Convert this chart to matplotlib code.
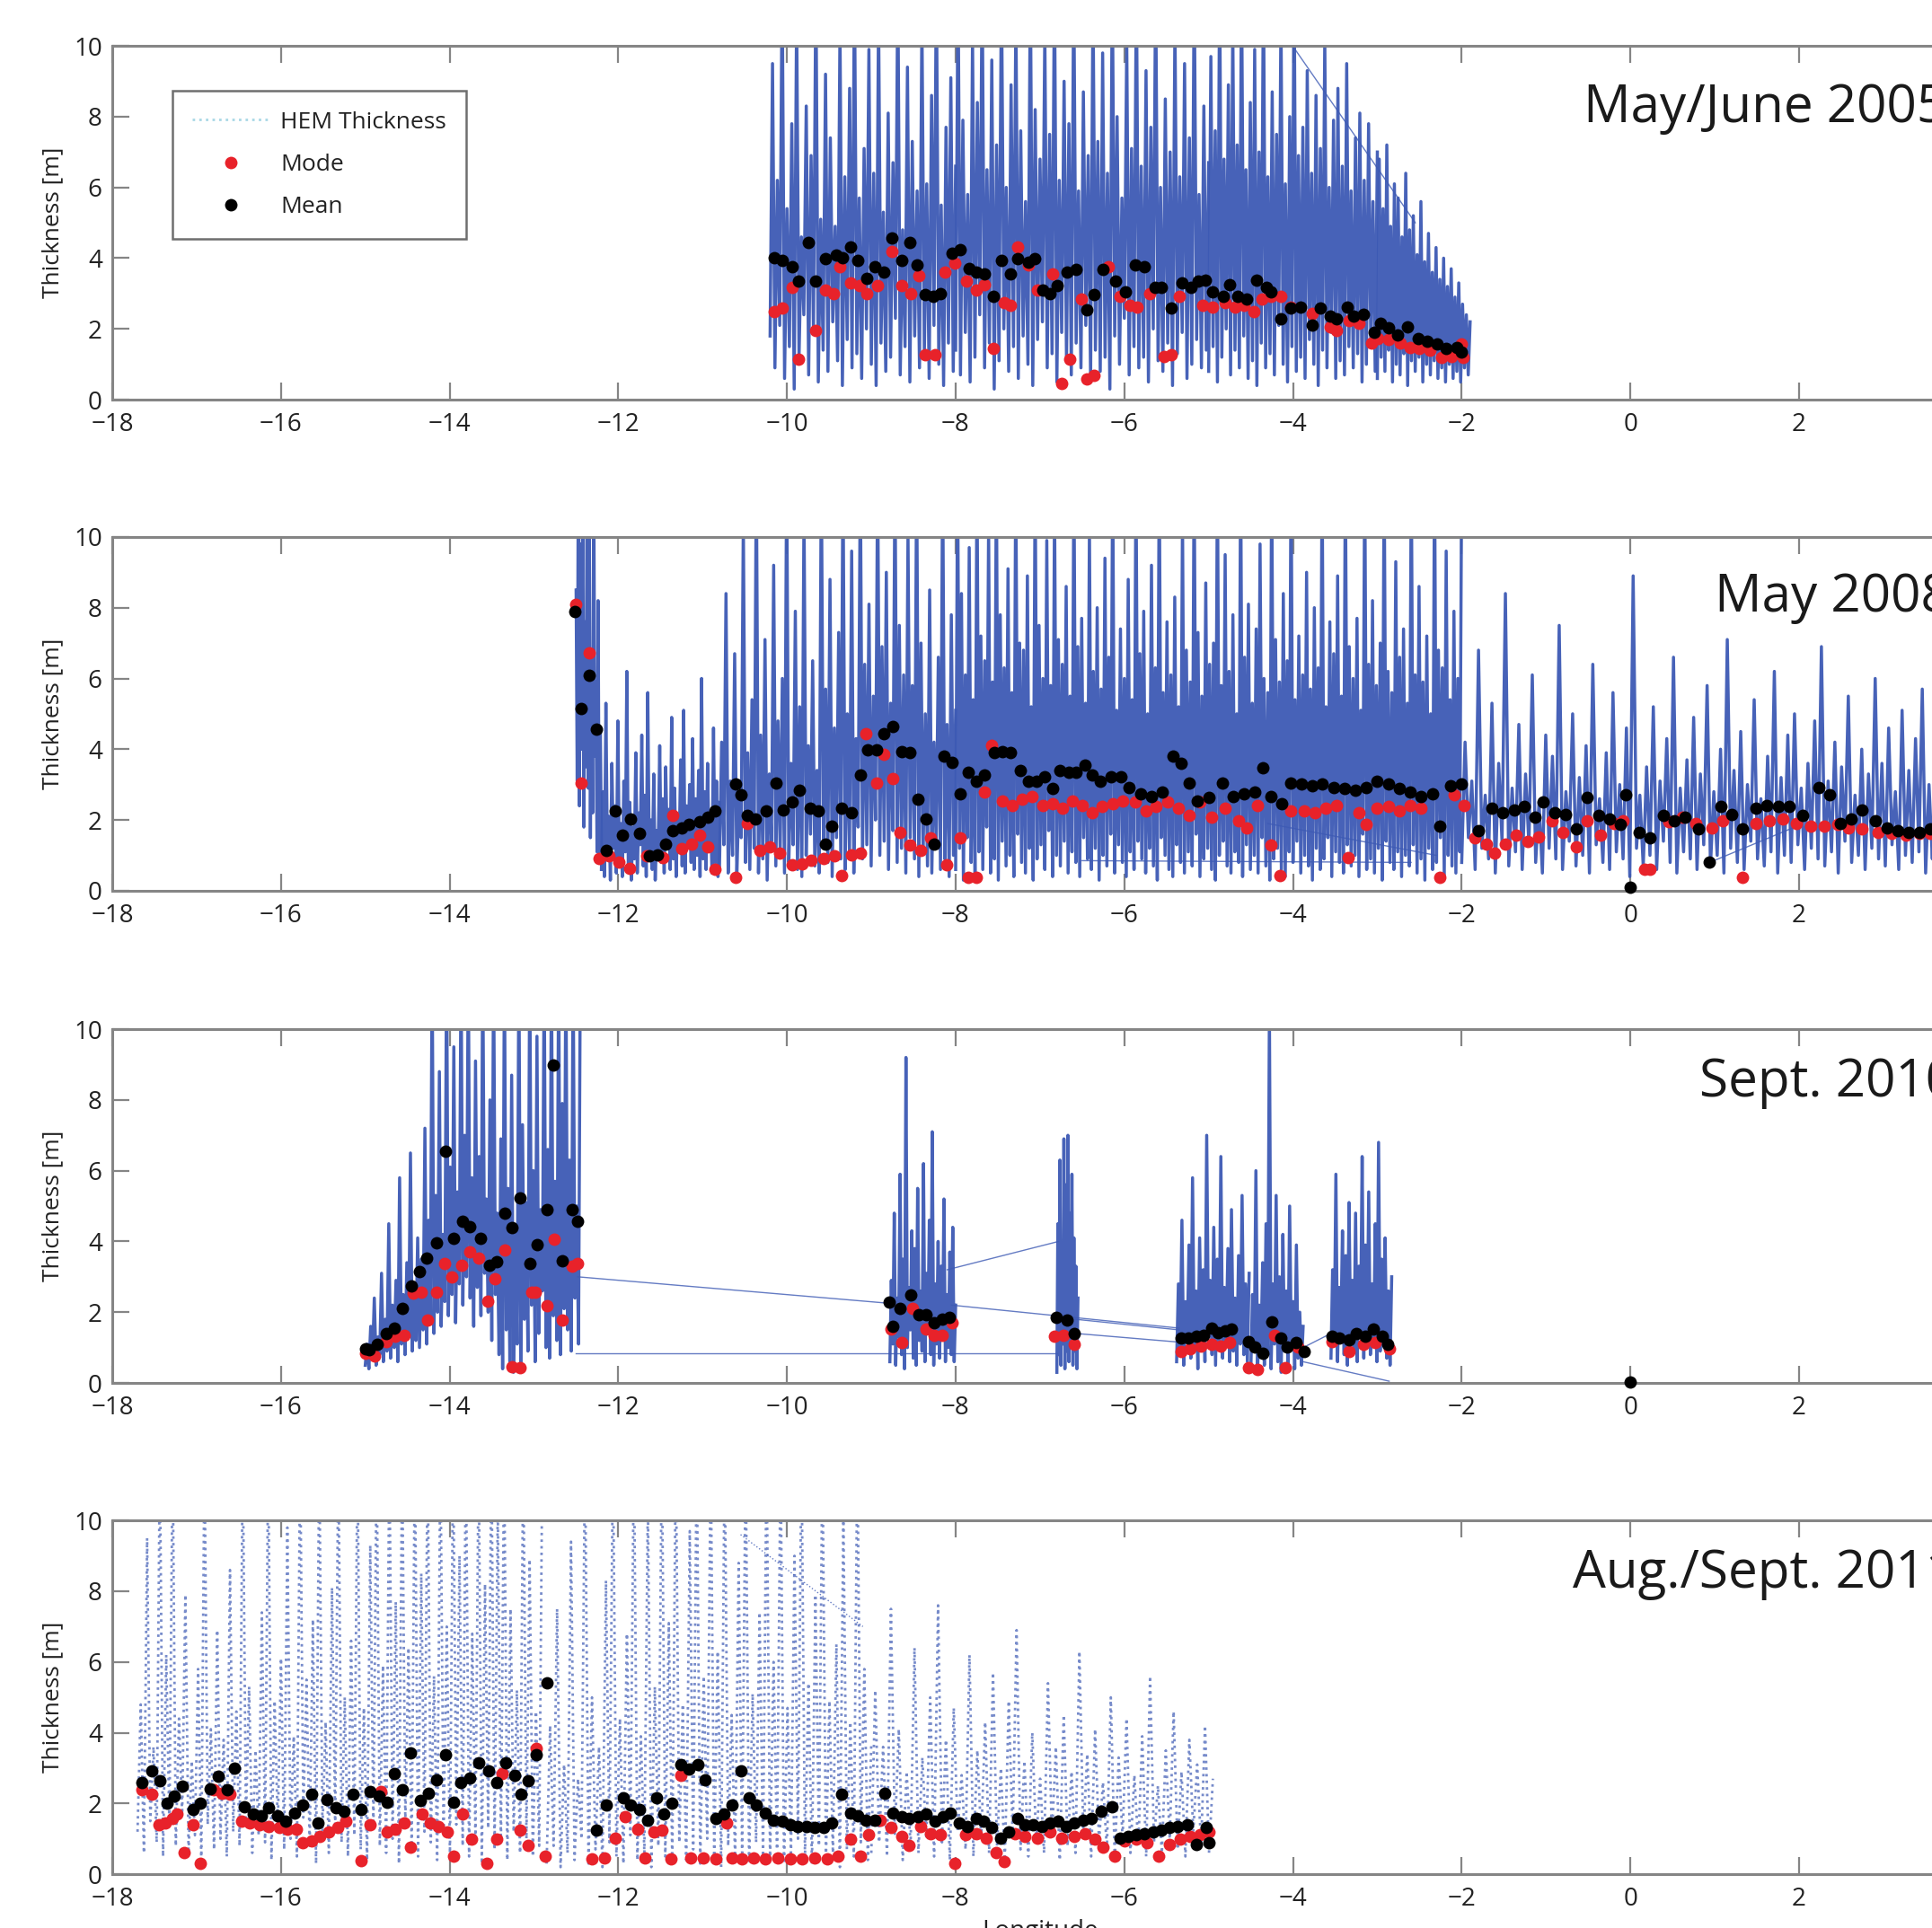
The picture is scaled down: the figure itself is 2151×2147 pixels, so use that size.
import numpy as np
import matplotlib.pyplot as plt
from matplotlib.lines import Line2D

plt.rcParams['font.family'] = ['Open Sans', 'DejaVu Sans']

# ---------------- HEM thickness along track (samples) ----------------
# May/June 2005
hem05_a = """1.8 9.5 0.9 6.2 2.1 12 0.6 5.4 1.5 7.8 0.3 11 1.2 4.6 2.4 8.3 0.7 6.9 1.9 12 0.5 5.1 1.4 9.2 0.8 7.4
2.2 4.9 1.1 10.5 0.4 6.3 1.7 8.8 0.9 12 1.3 5.7 0.6 7.1 2.0 9.9 1.0 6.4 0.4 11 1.6 5.3 0.8 8.1 1.2 6.7 2.3 12
0.7 4.8 1.5 9.4 0.5 7.3 1.8 5.9 0.9 10.8 1.3 6.1 0.6 8.6 2.1 12 1.0 5.5 0.4 7.7 1.6 9.1 0.8 6.6"""
hem05_b = """1.4 12 0.7 7.9 1.9 5.8 0.5 10.2 1.2 8.4 2.4 12 0.9 6.5 1.6 9.6 0.3 7.2 1.1 12 2.0 6.0 0.8 8.9 1.5 11 0.6
7.6 1.8 5.6 1.0 12 0.4 8.2 1.7 6.8 2.2 10.4 0.9 7.5 1.3 12 0.5 6.2 1.9 9.0 1.1 7.8 0.7 12 1.6 5.9 0.9 8.7 2.1 6.9
0.6 11.5 1.4 7.3 0.8 9.8 1.2 6.4 0.3 12 1.8 8.0 1.0 5.7 2.3 10.1 0.7 7.1 1.5 12 0.9 6.6 1.2 9.3 0.5 7.7 2.0 12 1.1
6.0 0.8 8.5 1.6 7.0 0.4 10.7 1.3 6.3 1.9 9.5 0.6 7.4 1.0 12 1.7 5.8 0.9 8.3 1.4 6.7"""
hem05_c = """0.8 9.7 1.5 7.6 0.5 12 1.2 6.8 2.0 8.9 0.7 10.6 1.4 7.2 0.9 12 1.8 6.5 0.6 8.4 1.1 9.9 0.4 7.0 1.6 12 0.9
6.3 1.3 8.7 0.7 7.5 2.1 10.9 1.0 6.1 0.5 8.0 1.5 12 0.8 6.9 1.2 7.7 0.6 9.3 1.7 6.4 1.0 8.6 0.4 7.1 1.4 10.2 0.9
6.0 1.9 7.9 0.6 8.8 1.1 6.6 0.7 9.5 1.5 5.9 0.9 7.4 1.3 8.1 0.5 6.2 1.0 7.8 1.6 5.6 0.8 7.0"""
hem05_d = """0.6 6.8 1.2 5.4 0.8 7.2 1.4 4.9 0.5 6.1 1.0 5.7 0.7 4.6 1.3 6.4 0.4 4.8 1.1 5.2 0.8 4.1 1.2 5.6 0.5 3.9
1.0 4.7 0.7 3.6 1.1 4.3 0.6 3.4 0.9 4.0 0.5 3.2 1.0 3.7 0.6 2.9 0.8 3.3 0.5 2.7 0.9 2.4 0.7 2.2"""
hem05 = [(-10.20, -8.00, hem05_a), (-8.00, -5.00, hem05_b), (-5.00, -3.00, hem05_c), (-3.00, -1.90, hem05_d)]
links05 = [[-4.15, 10.5, -2.55, 5.0]]

# May 2008
hem08_a = "8.5 3.1 12 2.4 9.8 4.0 12 1.8 7.6 3.5 12 2.9 10.4 1.5 6.8 2.2 12 3.8 5.9 1.1 8.2 0.9 4.6 1.3"
hem08_b = """0.6 2.8 0.4 5.3 0.9 2.1 0.3 3.6 1.2 2.4 0.5 4.8 0.8 1.9 0.4 3.1 1.1 6.2 0.6 2.5 0.3 1.8 0.9 3.9 0.5 2.2
1.3 4.4 0.7 2.7 0.4 5.6 1.0 2.0 0.6 3.3 0.3 1.7 1.2 4.1 0.8 2.6 0.5 3.5 1.4 2.3 0.6 4.9 0.9 2.9 0.4 2.1 1.1 3.7
0.7 5.1 0.5 2.4 1.3 3.0 0.8 4.3 0.6 2.6 1.0 3.4 0.4 6.0 0.9 2.8 0.6 3.6 1.2 2.2 0.5 4.6 0.8 3.1 0.4 2.5"""
hem08_c = """0.7 4.2 1.3 8.4 0.5 3.1 1.0 6.7 0.4 2.8 1.5 10.5 0.8 3.9 0.6 5.4 1.2 12 0.5 4.4 0.9 7.1 0.3 3.3 1.4 9.2
0.7 4.8 1.1 6.0 0.5 12 0.8 3.6 1.3 7.9 0.6 5.2 0.4 10.8 1.0 4.1 1.6 6.5 0.7 3.4 0.5 12 1.2 5.7 0.8 8.8 0.4 4.6
1.5 7.3 0.9 12 0.6 5.0 1.1 9.6 0.5 4.3 1.8 12 0.9 6.4 1.3 8.1 0.7 5.5 2.0 12 1.0 6.9 1.4 9.0 0.6 5.3 1.7 12 0.8
7.5 1.2 6.1 0.5 10.1 1.5 5.8 0.9 12 0.4 7.0 1.1 5.0 0.7 8.5 0.5 4.2 1.3 6.6 0.6 12 0.9 4.7 0.4 7.8 1.0 5.1"""
hem08_d = """0.6 12 1.2 8.4 0.3 6.1 1.5 9.7 0.8 5.4 0.4 12 1.1 7.2 0.6 6.5 1.8 10.3 0.5 5.9 0.9 12 0.3 7.8 1.4 6.3
0.7 9.1 1.0 5.6 0.4 12 1.6 7.0 0.8 6.8 0.5 8.9 1.2 5.2 0.3 12 0.9 7.5 1.3 6.0 0.6 9.9 1.7 5.8 0.4 11 1.0 7.1 0.7
6.4 1.4 8.6 0.5 5.5 1.1 12 0.8 6.9 0.4 7.7 1.5 5.3 0.9 10.2 0.6 6.2 1.2 8.0 0.3 5.7 1.0 9.4 0.7 6.6 1.6 12 0.5
5.1 1.3 7.4 0.8 6.0 0.4 8.8 1.1 5.4 0.6 12 1.4 6.7 0.9 7.9 0.5 5.0 1.2 9.2 0.7 6.3 0.3 12 1.5 5.6 1.0 7.6 0.6
6.1 0.4 8.3 1.3 5.2 0.8 10.6 0.5 6.8 1.1 5.9 0.7 12 1.6 7.3 0.4 5.5 0.9 8.7 1.2 6.4 0.6 7.0 0.3 12 1.0 5.8 1.4
9.5 0.7 6.2 0.5 7.8 1.1 5.0 0.8 12 0.4 6.6 1.3 8.1 0.6 5.3 1.0 7.4 0.5 9.8 1.5 6.0 0.7 5.6 0.3 12 0.9 7.1 1.2
5.9 0.6 8.4 0.4 6.5 1.1 12 0.8 5.4 1.4 7.2 0.5 6.1 1.0 9.0 0.7 5.7 0.3 8.0 1.2 6.3 0.6 12 0.9 5.2 1.5 7.6 0.4
6.7 1.1 8.9 0.8 5.5 0.5 12 1.3 6.9 0.7 6.0 1.0 7.7 0.4 5.1 1.6 12 0.6 6.4 0.9 8.2 0.5 5.8 1.2 7.0 0.3 12 1.4
6.2 0.8 5.6 0.6 9.3 1.1 6.6 0.4 7.4 1.0 5.3 0.7 12 1.3 6.1 0.5 8.6 0.9 5.9 0.3 7.2 1.2 5.0 0.6 12 0.8 6.8 1.5
6.3 0.4 9.6 1.0 5.4 0.7 7.9 0.5 6.0 1.1 12"""
hem08_e = """0.8 4.2 1.5 3.1 0.6 6.8 1.2 2.7 0.9 5.3 0.5 3.6 1.4 8.4 0.7 2.9 1.1 4.7 0.6 3.3 1.3 6.1 0.8 2.5 0.5 4.4
1.2 3.8 0.9 7.5 0.6 2.8 1.4 5.0 0.7 3.2 1.0 4.1 0.5 6.4 1.3 2.6 0.8 3.9 0.6 5.6 1.1 3.0 0.9 4.6 0.4 8.9 1.2 2.7
0.7 3.5 1.0 5.2 0.6 3.1 1.4 4.3 0.8 6.6 0.5 2.9 1.1 3.7 0.9 4.9 0.6 3.3 1.3 5.8 0.7 2.8 1.0 4.0 0.5 7.1 1.2 3.4
0.8 4.5 0.6 3.0 1.4 5.4 0.9 2.6 0.7 3.8 1.1 6.2 0.5 3.2 1.0 4.4 0.8 5.0 1.3 2.9 0.6 3.6 1.2 4.8 0.9 6.9 0.7 3.1
1.1 4.2 0.5 3.5 1.4 5.5 0.8 2.7 1.0 4.0 0.6 3.3 1.2 6.0 0.9 3.6 0.7 4.6 1.3 2.8 0.6 5.1 1.0 3.4 0.8 4.3 1.1 5.7
0.5 3.0 0.9 4.1 1.2 3.5"""
hem08 = [(-12.50, -12.20, hem08_a), (-12.20, -10.80, hem08_b), (-10.80, -8.00, hem08_c),
         (-8.00, -2.00, hem08_d), (-2.00, 3.70, hem08_e)]
links08 = [[-6.50, 0.85, -2.60, 0.80], [-4.30, 1.90, -2.30, 1.00], [0.94, 0.80, 2.05, 1.90]]

# Sept. 2010
hem10_a = """0.5 1.1 0.4 1.6 0.7 2.4 0.5 1.3 0.8 3.1 0.6 1.8 0.9 4.5 0.7 2.2 1.0 2.9 0.6 5.8 1.1 2.5 0.8 3.4 1.3 6.5
0.9 2.8 1.2 4.1 1.0 3.5 1.5 7.2 1.1 4.6 1.8 12 1.4 5.3 2.0 8.8 1.6 4.2 2.3 12 1.9 6.1 2.5 9.5 1.7 5.4 2.8 12 2.2
7.0 3.0 12 2.4 5.8 1.6 9.1 2.7 6.4 1.9 12 3.1 5.2 2.0 8.0 1.2 12 2.5 4.8 0.8 6.9 0.4 12 1.5 5.5 0.6 8.7 0.3 4.4
1.1 12 0.5 7.3 1.8 5.1 0.9 12 2.2 6.0 0.6 9.8 1.4 4.9 2.6 12 1.0 6.6 0.7 12 1.9 5.7 1.2 12 0.8 7.9 2.1 12 1.5
6.3 0.9 12 2.4 5.0 1.1 12"""
hem10_b = """0.6 2.9 1.1 4.8 0.5 2.4 1.3 5.9 0.8 3.5 0.4 9.2 1.0 2.7 1.5 4.3 0.7 3.8 0.5 5.5 1.2 2.6 0.9 6.2 0.6 3.1
1.4 4.6 0.8 7.1 0.5 2.8 1.1 4.0 0.7 3.3 1.3 5.2 0.6 2.5 1.0 3.7 0.8 4.4 0.6 2.2"""
hem10_c = "0.3 4.5 0.8 6.3 0.5 3.9 1.1 6.9 0.4 5.6 0.9 7.0 0.6 4.8 1.2 5.9 0.5 4.1 0.9 3.3 0.4 2.4"
hem10_d = """0.6 2.8 1.0 4.6 0.5 2.3 1.2 3.9 0.7 5.8 0.9 2.6 0.4 4.1 1.1 3.2 0.6 7.0 1.3 2.9 0.8 4.4 0.5 3.5 1.0 6.4
0.7 2.7 1.2 3.8 0.6 4.9 0.9 2.4 0.5 3.6 1.1 5.3 0.8 2.8 0.6 3.1"""
hem10_e = "0.4 2.5 0.9 6.0 0.3 2.2 1.0 3.4 0.5 4.5 0.8 10.5 0.4 2.8 1.1 5.3 0.6 3.0 0.3 4.2 0.9 2.6 0.5 5.0 1.0 2.3 0.4 3.9 0.7 2.0 0.5 1.6"
hem10_f = """0.7 3.2 1.1 5.9 0.6 2.7 1.3 4.3 0.8 3.6 0.5 5.1 1.2 2.9 0.9 4.8 0.6 3.3 1.4 6.4 0.7 3.9 1.0 5.4 0.8 2.8
1.2 4.5 0.6 6.8 0.9 3.5 1.1 4.1 0.7 2.6 0.5 3.0"""
hem10 = [(-15.00, -12.45, hem10_a), (-8.78, -8.00, hem10_b), (-6.80, -6.55, hem10_c),
         (-5.38, -4.52, hem10_d), (-4.50, -3.88, hem10_e), (-3.55, -2.83, hem10_f)]
links10 = [[-12.48, 3.00, -8.78, 2.25], [-12.50, 0.85, -6.80, 0.85], [-8.10, 3.20, -6.78, 4.00],
           [-8.05, 2.20, -5.35, 1.55], [-6.58, 1.80, -5.35, 1.50], [-6.58, 1.40, -5.33, 1.15],
           [-3.88, 0.60, -2.86, 0.05], [-3.88, 1.00, -3.55, 1.40]]

# Aug./Sept. 2011
hem11_a = """1.2 4.8 0.6 9.5 1.5 3.6 0.9 12 0.5 6.2 1.3 12 0.8 4.4 1.7 7.9 0.6 3.2 1.1 5.8 0.4 12 1.4 4.1 0.7 6.9
1.0 3.8 0.5 8.6 1.2 4.6 0.8 12 1.5 5.3 0.6 3.5 1.1 7.4 0.9 12 0.4 4.9 1.3 6.1 0.7 9.8 1.0 3.9 0.5 12 1.6 5.5 0.8
7.2 0.3 12 1.2 4.3 0.6 8.1 1.4 12 0.9 5.0 0.5 6.6 1.1 12 0.7 4.7 0.4 9.3 1.3 12 0.8 5.9 0.6 12 1.0 7.7 0.3 12 1.5
6.4 0.7 12 0.5 8.5 1.2 12 0.9 5.6 0.4 12 1.1 7.0 0.6 12 1.4 9.0 0.8 12 0.5 6.8 1.0 12 0.3 8.2 1.3 12 0.7 10.4 0.9
12 0.4 7.5 1.2 5.2 0.6 12 1.0 8.9 0.5 4.6 0.8 12"""
hem11_b = """0.3 4.2 0.8 7.5 0.2 3.1 0.6 9.4 0.4 2.7 1.0 12 0.3 5.0 0.7 3.6 0.2 8.3 0.9 12 0.5 4.4 0.3 6.8 1.1 12 0.4
3.9 0.6 10.6 0.2 5.3 0.8 12 0.5 7.1 0.3 12 0.9 4.8 0.4 9.7 0.7 12 0.3 5.6 1.0 12 0.5 6.3 0.2 12 0.8 4.5 0.4 8.8
0.6 12 0.3 5.1 0.9 7.4 0.5 12 0.4 6.0 0.7 12 0.3 4.7 0.6 9.0 1.0 12 0.5 5.4 0.3 7.9 0.8 12 0.4 4.9 0.6 6.5 0.2
10.1 0.7 4.3 0.5 12 0.9 5.8 0.4 3.7"""
hem11_c = """0.6 5.2 0.9 3.6 0.5 7.5 1.1 4.1 0.4 2.9 0.8 6.4 0.6 3.3 1.0 5.0 0.5 7.6 0.9 3.8 0.4 4.7 1.2 2.8 0.7 6.2
0.5 3.5 1.0 4.3 0.6 5.7 0.8 3.0 0.4 4.9 1.1 6.9 0.7 3.2 0.5 4.0 0.9 2.7 0.6 5.4 1.0 3.6 0.4 4.5 0.8 2.9 0.6 6.3
1.1 3.4 0.5 4.1 0.9 2.6 0.7 5.0 0.4 3.3 1.0 4.4 0.6 2.8 0.8 3.9 0.5 5.6 0.9 2.5 0.6 3.5 1.0 4.6 0.7 2.9 0.5 3.8
1.2 3.1 0.8 4.2 0.6 2.7"""
hem11 = [(-17.70, -12.90, hem11_a), (-12.85, -9.00, hem11_b), (-9.00, -4.95, hem11_c)]
links11 = [[-10.55, 9.60, -9.10, 7.00]]

# ---------------- Mode / Mean per section [lon, thickness] ----------------
mode05 = np.array([[-10.15, 2.50], [-10.06, 2.58], [-9.94, 3.17], [-9.86, 1.14], [-9.66, 1.95], [-9.54, 3.09],
    [-9.45, 3.00], [-9.37, 3.77], [-9.25, 3.30], [-9.14, 3.22], [-9.05, 3.00], [-8.93, 3.22], [-8.76, 4.19],
    [-8.64, 3.22], [-8.53, 3.00], [-8.44, 3.51], [-8.36, 1.27], [-8.24, 1.27], [-8.13, 3.60], [-8.01, 3.85],
    [-7.87, 3.34], [-7.75, 3.09], [-7.66, 3.26], [-7.55, 1.44], [-7.43, 2.75], [-7.35, 2.67], [-7.26, 4.32],
    [-7.14, 3.81], [-7.03, 3.09], [-6.85, 3.55], [-6.74, 0.47], [-6.65, 1.14], [-6.51, 2.84], [-6.45, 0.59],
    [-6.36, 0.68], [-6.19, 3.77], [-6.05, 2.92], [-5.93, 2.67], [-5.85, 2.62], [-5.70, 3.00], [-5.53, 1.23],
    [-5.44, 1.27], [-5.35, 2.92], [-5.07, 2.67], [-4.95, 2.62], [-4.81, 2.75], [-4.69, 2.62], [-4.58, 2.67],
    [-4.46, 2.50], [-4.37, 2.84], [-4.26, 2.92], [-4.14, 2.92], [-4.03, 2.62], [-3.77, 2.45], [-3.56, 2.07],
    [-3.48, 1.95], [-3.33, 2.24], [-3.22, 2.16], [-3.07, 1.61], [-2.99, 1.73], [-2.87, 1.69], [-2.73, 1.61],
    [-2.61, 1.48], [-2.50, 1.44], [-2.38, 1.40], [-2.24, 1.19], [-2.12, 1.23], [-2.00, 1.57], [-1.98, 1.19]])
mean05 = np.array([[-10.15, 4.02], [-10.06, 3.93], [-9.94, 3.77], [-9.86, 3.34], [-9.75, 4.44], [-9.66, 3.34],
    [-9.54, 3.98], [-9.42, 4.10], [-9.34, 4.02], [-9.25, 4.32], [-9.16, 3.93], [-9.05, 3.43], [-8.96, 3.77],
    [-8.85, 3.60], [-8.76, 4.57], [-8.64, 3.93], [-8.54, 4.44], [-8.46, 3.81], [-8.36, 2.96], [-8.27, 2.92],
    [-8.18, 3.00], [-8.04, 4.15], [-7.95, 4.23], [-7.84, 3.72], [-7.75, 3.60], [-7.66, 3.55], [-7.55, 2.92],
    [-7.46, 3.93], [-7.35, 3.55], [-7.26, 3.98], [-7.14, 3.88], [-7.06, 3.98], [-6.97, 3.09], [-6.88, 3.00],
    [-6.80, 3.22], [-6.68, 3.60], [-6.57, 3.68], [-6.45, 2.54], [-6.36, 2.96], [-6.25, 3.68], [-6.10, 3.34],
    [-5.99, 3.05], [-5.87, 3.81], [-5.76, 3.77], [-5.64, 3.17], [-5.56, 3.17], [-5.44, 2.58], [-5.32, 3.30],
    [-5.21, 3.17], [-5.12, 3.34], [-5.04, 3.39], [-4.95, 3.05], [-4.83, 2.92], [-4.75, 3.26], [-4.66, 2.92],
    [-4.55, 2.84], [-4.43, 3.39], [-4.31, 3.17], [-4.26, 3.05], [-4.14, 2.29], [-4.03, 2.58], [-3.91, 2.62],
    [-3.77, 2.12], [-3.68, 2.58], [-3.56, 2.37], [-3.48, 2.29], [-3.36, 2.62], [-3.28, 2.37], [-3.16, 2.41],
    [-3.04, 1.90], [-2.96, 2.16], [-2.87, 2.03], [-2.76, 1.82], [-2.64, 2.07], [-2.52, 1.73], [-2.41, 1.65],
    [-2.29, 1.57], [-2.18, 1.44], [-2.06, 1.48], [-2.00, 1.35]])

mode08 = np.array([[-12.50, 8.09], [-12.34, 6.72], [-12.44, 3.05], [-12.23, 0.90], [-12.11, 0.98], [-11.99, 0.81],
    [-11.87, 0.64], [-11.66, 0.98], [-11.47, 0.94], [-11.35, 2.12], [-11.25, 1.19], [-11.13, 1.32], [-11.04, 1.57],
    [-10.94, 1.23], [-10.85, 0.60], [-10.61, 0.39], [-10.47, 1.91], [-10.32, 1.15], [-10.20, 1.23], [-10.09, 1.07],
    [-9.94, 0.73], [-9.82, 0.77], [-9.71, 0.85], [-9.56, 0.90], [-9.44, 0.98], [-9.35, 0.43], [-9.23, 1.02],
    [-9.13, 1.07], [-9.06, 4.44], [-8.94, 3.05], [-8.85, 3.85], [-8.75, 3.18], [-8.66, 1.66], [-8.54, 1.28],
    [-8.42, 1.15], [-8.30, 1.49], [-8.11, 0.73], [-7.95, 1.49], [-7.85, 0.39], [-7.76, 0.39], [-7.66, 2.80],
    [-7.57, 4.10], [-7.45, 2.54], [-7.33, 2.42], [-7.21, 2.59], [-7.09, 2.67], [-6.97, 2.42], [-6.85, 2.46],
    [-6.73, 2.33], [-6.62, 2.54], [-6.50, 2.42], [-6.38, 2.21], [-6.26, 2.38], [-6.14, 2.46], [-6.02, 2.54],
    [-5.87, 2.50], [-5.74, 2.25], [-5.62, 2.38], [-5.49, 2.50], [-5.36, 2.33], [-5.23, 2.12], [-5.10, 2.50],
    [-4.97, 2.08], [-4.81, 2.33], [-4.65, 1.99], [-4.55, 1.78], [-4.42, 2.42], [-4.26, 1.28], [-4.16, 0.43],
    [-4.03, 2.25], [-3.87, 2.25], [-3.74, 2.21], [-3.61, 2.33], [-3.48, 2.42], [-3.35, 0.94], [-3.22, 2.21],
    [-3.13, 1.87], [-3.00, 2.33], [-2.87, 2.38], [-2.74, 2.25], [-2.61, 2.42], [-2.48, 2.33], [-2.26, 0.39],
    [-2.09, 2.71], [-1.97, 2.42], [-1.84, 1.49], [-1.71, 1.32], [-1.61, 1.07], [-1.48, 1.32], [-1.35, 1.57],
    [-1.22, 1.40], [-1.09, 1.53], [-0.93, 1.99], [-0.80, 1.66], [-0.64, 1.23], [-0.51, 1.99], [-0.35, 1.57],
    [-0.19, 1.91], [-0.09, 1.99], [0.17, 0.60], [0.23, 0.60], [0.46, 1.95], [0.62, 2.08], [0.78, 1.91],
    [0.97, 1.78], [1.10, 1.99], [1.33, 0.39], [1.49, 1.91], [1.65, 1.99], [1.81, 2.04], [1.97, 1.91],
    [2.14, 1.83], [2.30, 1.83], [2.46, 1.87], [2.59, 1.78], [2.75, 1.74], [2.94, 1.66], [3.10, 1.61],
    [3.27, 1.57], [3.43, 1.61], [3.56, 1.61]])
mean08 = np.array([[-12.52, 7.90], [-12.34, 6.09], [-12.44, 5.16], [-12.26, 4.57], [-12.14, 1.15], [-12.04, 2.25],
    [-11.95, 1.57], [-11.85, 2.04], [-11.75, 1.61], [-11.63, 0.98], [-11.54, 1.02], [-11.44, 1.32], [-11.35, 1.70],
    [-11.25, 1.78], [-11.16, 1.87], [-11.04, 1.95], [-10.94, 2.08], [-10.85, 2.25], [-10.61, 3.01], [-10.54, 2.71],
    [-10.47, 2.12], [-10.37, 2.04], [-10.25, 2.25], [-10.13, 3.05], [-10.04, 2.29], [-9.94, 2.50], [-9.85, 2.84],
    [-9.73, 2.33], [-9.63, 2.25], [-9.54, 1.32], [-9.47, 1.83], [-9.35, 2.33], [-9.23, 2.21], [-9.13, 3.26],
    [-9.04, 3.98], [-8.94, 3.98], [-8.85, 4.44], [-8.75, 4.65], [-8.64, 3.94], [-8.54, 3.90], [-8.45, 2.59],
    [-8.35, 2.04], [-8.26, 1.32], [-8.14, 3.81], [-8.04, 3.64], [-7.95, 2.75], [-7.85, 3.35], [-7.76, 3.09],
    [-7.66, 3.26], [-7.54, 3.90], [-7.45, 3.94], [-7.35, 3.90], [-7.23, 3.39], [-7.14, 3.09], [-7.04, 3.09],
    [-6.95, 3.22], [-6.85, 2.88], [-6.76, 3.39], [-6.66, 3.35], [-6.57, 3.35], [-6.47, 3.56], [-6.38, 3.26],
    [-6.28, 3.09], [-6.16, 3.22], [-6.04, 3.22], [-5.94, 2.92], [-5.81, 2.75], [-5.68, 2.67], [-5.55, 2.80],
    [-5.42, 3.81], [-5.33, 3.60], [-5.23, 3.05], [-5.13, 2.54], [-5.00, 2.63], [-4.84, 3.05], [-4.71, 2.67],
    [-4.58, 2.75], [-4.45, 2.80], [-4.36, 3.47], [-4.26, 2.67], [-4.13, 2.46], [-4.03, 3.05], [-3.90, 3.01],
    [-3.77, 2.97], [-3.65, 3.01], [-3.52, 2.92], [-3.39, 2.88], [-3.26, 2.84], [-3.13, 2.92], [-3.00, 3.09],
    [-2.87, 3.01], [-2.74, 2.88], [-2.61, 2.80], [-2.48, 2.67], [-2.35, 2.75], [-2.26, 1.83], [-2.13, 2.97],
    [-2.00, 3.01], [-1.80, 1.70], [-1.64, 2.33], [-1.51, 2.21], [-1.38, 2.29], [-1.26, 2.38], [-1.13, 2.08],
    [-1.03, 2.50], [-0.90, 2.21], [-0.77, 2.16], [-0.64, 1.74], [-0.51, 2.63], [-0.38, 2.12], [-0.25, 2.04],
    [-0.12, 1.87], [-0.06, 2.71], [0.00, 0.09], [0.10, 1.66], [0.23, 1.49], [0.39, 2.12], [0.52, 1.99],
    [0.65, 2.08], [0.81, 1.74], [0.94, 0.81], [1.07, 2.38], [1.20, 2.16], [1.33, 1.74], [1.49, 2.33],
    [1.62, 2.42], [1.75, 2.38], [1.88, 2.38], [2.04, 2.12], [2.23, 2.92], [2.36, 2.71], [2.49, 1.91],
    [2.62, 2.04], [2.75, 2.29], [2.91, 1.99], [3.04, 1.78], [3.17, 1.70], [3.30, 1.66], [3.43, 1.66],
    [3.56, 1.74]])

mode10 = np.array([[-15.00, 0.84], [-14.89, 0.76], [-14.75, 1.18], [-14.65, 1.31], [-14.54, 1.35], [-14.43, 2.53],
    [-14.34, 2.57], [-14.26, 1.77], [-14.15, 2.57], [-14.06, 3.38], [-13.97, 3.00], [-13.86, 3.33], [-13.76, 3.71],
    [-13.65, 3.54], [-13.55, 2.32], [-13.46, 2.95], [-13.35, 3.76], [-13.26, 0.46], [-13.16, 0.42], [-13.03, 2.57],
    [-12.98, 2.57], [-12.85, 2.19], [-12.76, 4.05], [-12.66, 1.77], [-12.55, 3.29], [-12.48, 3.38],
    [-8.77, 1.52], [-8.64, 1.14], [-8.51, 2.11], [-8.35, 1.52], [-8.26, 1.35], [-8.16, 1.35], [-8.04, 1.69],
    [-6.83, 1.31], [-6.72, 1.35], [-6.59, 1.10], [-5.33, 0.89], [-5.22, 0.97], [-5.09, 1.05], [-4.97, 1.10],
    [-4.86, 1.05], [-4.75, 1.14], [-4.53, 0.42], [-4.42, 0.38], [-4.22, 1.35], [-4.09, 0.42], [-3.94, 1.01],
    [-3.54, 1.18], [-3.34, 0.89], [-3.16, 1.10], [-3.03, 1.14], [-2.86, 0.97]])
mean10 = np.array([[-15.00, 0.97], [-14.95, 0.93], [-14.86, 1.10], [-14.75, 1.39], [-14.66, 1.56], [-14.56, 2.11],
    [-14.45, 2.74], [-14.36, 3.16], [-14.27, 3.54], [-14.15, 3.97], [-14.05, 6.54], [-13.95, 4.09], [-13.85, 4.56],
    [-13.76, 4.43], [-13.63, 4.09], [-13.53, 3.33], [-13.44, 3.42], [-13.35, 4.81], [-13.26, 4.39], [-13.16, 5.23],
    [-13.05, 3.38], [-12.96, 3.92], [-12.85, 4.89], [-12.77, 8.99], [-12.66, 3.46], [-12.55, 4.89], [-12.48, 4.56],
    [-8.79, 2.28], [-8.75, 1.60], [-8.66, 2.11], [-8.53, 2.49], [-8.44, 1.94], [-8.35, 1.94], [-8.26, 1.69],
    [-8.16, 1.81], [-8.07, 1.86], [-6.81, 1.86], [-6.68, 1.77], [-6.59, 1.39], [-5.33, 1.27], [-5.24, 1.27],
    [-5.15, 1.31], [-5.06, 1.35], [-4.97, 1.56], [-4.89, 1.43], [-4.80, 1.48], [-4.73, 1.52], [-4.53, 1.18],
    [-4.45, 1.01], [-4.36, 0.84], [-4.25, 1.73], [-4.14, 1.27], [-4.07, 1.01], [-3.96, 1.14], [-3.87, 0.89],
    [-3.54, 1.31], [-3.45, 1.27], [-3.34, 1.22], [-3.25, 1.39], [-3.14, 1.31], [-3.05, 1.52], [-2.94, 1.31],
    [-2.88, 1.10], [0.00, 0.02]])

mode11 = np.array([[-17.65, 2.38], [-17.53, 2.25], [-17.45, 1.40], [-17.37, 1.45], [-17.29, 1.57], [-17.23, 1.70],
    [-17.15, 0.60], [-17.04, 1.40], [-16.96, 0.30], [-16.80, 2.38], [-16.70, 2.29], [-16.60, 2.25], [-16.47, 1.49],
    [-16.37, 1.45], [-16.25, 1.40], [-16.15, 1.36], [-16.02, 1.32], [-15.92, 1.28], [-15.82, 1.28], [-15.74, 0.90],
    [-15.64, 0.94], [-15.54, 1.07], [-15.43, 1.19], [-15.33, 1.32], [-15.23, 1.49], [-15.05, 0.39], [-14.94, 1.40],
    [-14.82, 2.33], [-14.74, 1.19], [-14.64, 1.28], [-14.54, 1.45], [-14.46, 0.77], [-14.33, 1.70], [-14.23, 1.45],
    [-14.13, 1.36], [-14.03, 1.19], [-13.95, 0.52], [-13.85, 1.70], [-13.74, 0.98], [-13.56, 0.30], [-13.44, 0.98],
    [-13.38, 2.84], [-13.17, 1.24], [-13.07, 0.81], [-12.97, 3.56], [-12.87, 0.52],
    [-12.31, 0.43], [-12.16, 0.47], [-12.04, 1.02], [-11.92, 1.62], [-11.77, 1.28], [-11.68, 0.47], [-11.58, 1.19],
    [-11.48, 1.24], [-11.38, 0.43], [-11.26, 2.80], [-11.14, 0.47], [-10.99, 0.47], [-10.84, 0.43], [-10.72, 1.45],
    [-10.65, 0.47], [-10.53, 0.43], [-10.40, 0.47], [-10.26, 0.43], [-10.11, 0.47], [-9.96, 0.43], [-9.82, 0.43],
    [-9.67, 0.47], [-9.52, 0.43], [-9.40, 0.52], [-9.25, 0.98], [-9.13, 0.52], [-9.03, 1.11], [-8.89, 1.53],
    [-8.77, 1.32], [-8.64, 1.07], [-8.55, 0.81], [-8.42, 1.36], [-8.30, 1.15], [-8.18, 1.11], [-8.01, 0.30],
    [-7.88, 1.11], [-7.76, 1.15], [-7.64, 1.02], [-7.52, 0.60], [-7.42, 0.35], [-7.30, 1.15], [-7.18, 1.07],
    [-7.03, 1.02], [-6.88, 1.19], [-6.74, 1.02], [-6.59, 1.07], [-6.47, 1.15], [-6.35, 0.98], [-6.25, 0.77],
    [-6.12, 0.52], [-6.00, 0.94], [-5.86, 0.98], [-5.73, 0.90], [-5.59, 0.52], [-5.47, 0.85], [-5.34, 0.98],
    [-5.22, 1.07], [-5.10, 1.11], [-5.00, 1.19]])
mean11 = np.array([[-17.65, 2.59], [-17.53, 2.93], [-17.43, 2.63], [-17.35, 2.00], [-17.27, 2.21], [-17.17, 2.50],
    [-17.04, 1.83], [-16.96, 2.00], [-16.84, 2.42], [-16.74, 2.76], [-16.64, 2.38], [-16.55, 3.01], [-16.43, 1.91],
    [-16.33, 1.70], [-16.23, 1.66], [-16.15, 1.87], [-16.04, 1.66], [-15.94, 1.49], [-15.84, 1.74], [-15.74, 1.95],
    [-15.64, 2.25], [-15.56, 1.45], [-15.45, 2.12], [-15.35, 1.87], [-15.25, 1.79], [-15.15, 2.25], [-15.05, 1.83],
    [-14.94, 2.33], [-14.84, 2.21], [-14.74, 2.04], [-14.66, 2.84], [-14.56, 2.38], [-14.46, 3.44], [-14.35, 2.08],
    [-14.25, 2.29], [-14.15, 2.67], [-14.05, 3.39], [-13.95, 2.04], [-13.87, 2.59], [-13.76, 2.72], [-13.66, 3.14],
    [-13.54, 2.93], [-13.44, 2.59], [-13.34, 3.14], [-13.23, 2.80], [-13.15, 2.25], [-13.07, 2.63], [-12.97, 3.39],
    [-12.85, 5.42], [-12.26, 1.24], [-12.14, 1.95], [-11.94, 2.17], [-11.85, 1.95], [-11.75, 1.83], [-11.65, 1.53],
    [-11.55, 2.17], [-11.46, 1.70], [-11.36, 2.00], [-11.26, 3.10], [-11.16, 2.97], [-11.06, 3.10], [-10.97, 2.67],
    [-10.84, 1.57], [-10.75, 1.70], [-10.65, 1.95], [-10.55, 2.93], [-10.45, 2.17], [-10.36, 1.95], [-10.26, 1.74],
    [-10.16, 1.53], [-10.06, 1.49], [-9.96, 1.40], [-9.87, 1.36], [-9.77, 1.36], [-9.67, 1.32], [-9.57, 1.32],
    [-9.47, 1.45], [-9.35, 2.25], [-9.25, 1.74], [-9.16, 1.66], [-9.06, 1.53], [-8.96, 1.53], [-8.84, 2.29],
    [-8.74, 1.74], [-8.64, 1.62], [-8.55, 1.57], [-8.45, 1.62], [-8.35, 1.70], [-8.25, 1.49], [-8.15, 1.62],
    [-8.06, 1.74], [-7.96, 1.45], [-7.86, 1.36], [-7.76, 1.57], [-7.67, 1.49], [-7.57, 1.32], [-7.47, 1.02],
    [-7.37, 1.19], [-7.27, 1.57], [-7.18, 1.40], [-7.08, 1.40], [-6.98, 1.36], [-6.88, 1.45], [-6.79, 1.49],
    [-6.69, 1.36], [-6.59, 1.45], [-6.49, 1.53], [-6.39, 1.57], [-6.27, 1.78], [-6.15, 1.91], [-6.05, 1.02],
    [-5.95, 1.07], [-5.86, 1.11], [-5.76, 1.15], [-5.66, 1.19], [-5.56, 1.24], [-5.47, 1.32], [-5.37, 1.36],
    [-5.25, 1.40], [-5.15, 0.85], [-5.03, 1.32], [-5.00, 0.90]])

titles = ['May/June 2005', 'May 2008', 'Sept. 2010', 'Aug./Sept. 2011']
title_lon = [-0.56, 1.00, 0.82, -0.68]
title_y = [7.85, 7.9, 8.1, 8.1]
x_ticks = list(range(-18, 5, 2))
y_ticks = list(range(0, 11, 2))

panels = [(hem05, links05, mode05, mean05, '-'),
          (hem08, links08, mode08, mean08, '-'),
          (hem10, links10, mode10, mean10, '-'),
          (hem11, links11, mode11, mean11, ':')]

hem_color = '#3d5ab4'
axis_grey = '#858585'
text_col = '#222222'

fig = plt.figure(figsize=(21.51, 21.47), dpi=100)
bottoms = [0.7927, 0.5380, 0.2827, 0.0279]

for i, (hem, links, mode, mean, ls) in enumerate(panels):
    ax = fig.add_axes([0.0581, bottoms[i], 0.9604, 0.1835])
    if ls == '-':
        lw, alpha = 2.5, 0.95
    else:
        lw, alpha = 2.0, 0.7
    for lon0, lon1, vals in hem:
        y = np.array(vals.split(), float)
        x = np.linspace(lon0, lon1, len(y))
        ax.plot(x, y, ls, color=hem_color, lw=lw, alpha=alpha, zorder=2)
    for x0, y0, x1, y1 in links:
        ax.plot([x0, x1], [y0, y1], ls, color=hem_color, lw=1.0, alpha=0.8, zorder=2)
    ax.plot(mode[:, 0], mode[:, 1], 'o', color='#e8222a', ms=10, mec='none', clip_on=False, zorder=4)
    ax.plot(mean[:, 0], mean[:, 1], 'o', color='black', ms=10, mec='none', clip_on=False, zorder=5)

    ax.set_xlim(-18, 4)
    ax.set_ylim(0, 10)
    ax.set_xticks(x_ticks)
    ax.set_yticks(y_ticks)
    ax.tick_params(direction='in', length=14, width=1.6, color=axis_grey, top=True, right=True,
                   labelsize=20, labelcolor=text_col)
    ax.tick_params(axis='x', pad=10)
    ax.tick_params(axis='y', pad=8)
    for s in ax.spines.values():
        s.set_color(axis_grey)
        s.set_linewidth(2.2)
    ax.set_ylabel('Thickness [m]', fontsize=19, labelpad=8, color=text_col)
    ax.text(title_lon[i], title_y[i], titles[i], fontsize=42, color='#1a1a1a', ha='left', va='baseline')

    if i == 0:
        handles = [Line2D([], [], ls=':', color='#a9d8e6', lw=2),
                   Line2D([], [], ls='none', marker='o', color='#e8222a', ms=10, mec='none'),
                   Line2D([], [], ls='none', marker='o', color='black', ms=10, mec='none')]
        leg = ax.legend(handles, ['HEM Thickness', 'Mode', 'Mean'], loc='upper left',
                        bbox_to_anchor=(0.0324, 0.873), borderaxespad=0, fontsize=19,
                        frameon=True, fancybox=False, edgecolor='#6e6e6e', framealpha=1,
                        borderpad=0.85, labelspacing=0.85, handlelength=3.2, handletextpad=0.5)
        leg.get_frame().set_linewidth(1.8)
        for t in leg.get_texts():
            t.set_color(text_col)
    if i == 3:
        ax.set_xlabel('Longitude', fontsize=20, labelpad=6, color=text_col)

fig.savefig('out.png', dpi=100)
